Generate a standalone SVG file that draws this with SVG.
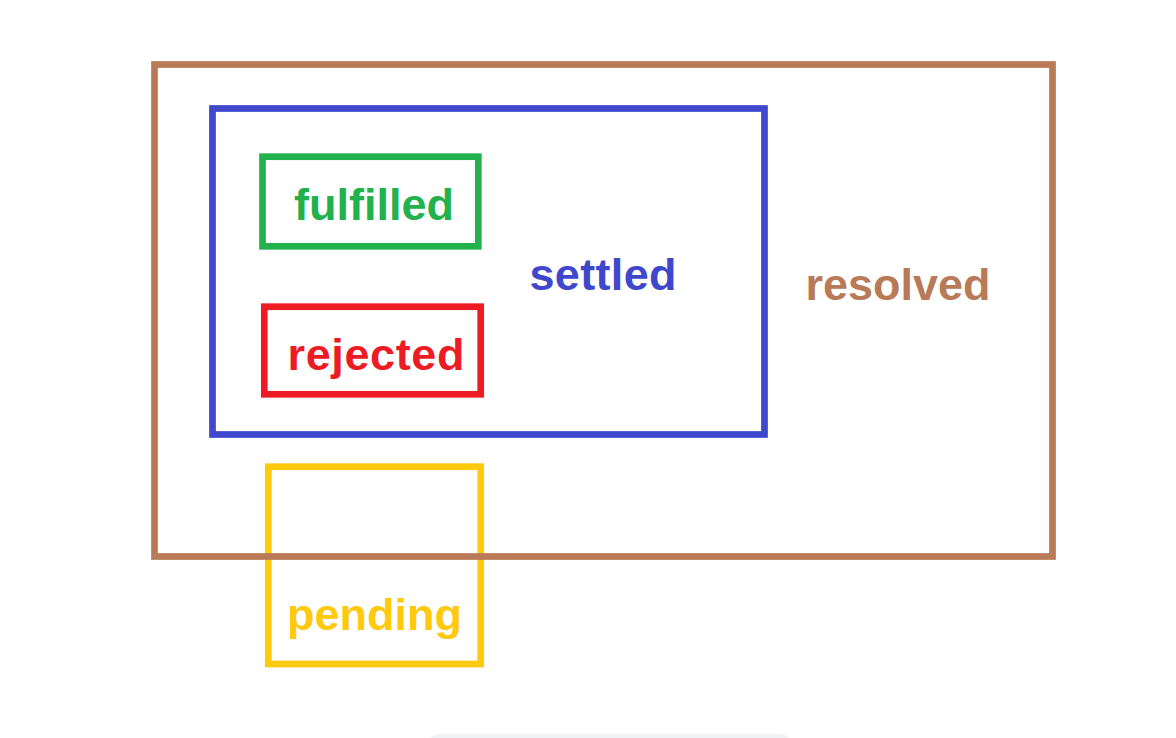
<svg xmlns="http://www.w3.org/2000/svg" width="1176" height="738" viewBox="0 0 1176 738">
  <style>
    .box { fill: none; stroke-width: 6.7; }
    .lbl { font-family: "Liberation Sans", Arial, Helvetica, sans-serif; font-weight: bold; font-size: 45px; }
  </style>
  <rect x="0" y="0" width="1176" height="738" fill="#ffffff"/>
  <g id="pending">
    <rect class="box" x="268.3" y="466.7" width="212.4" height="197.3" stroke="#ffc90e"/>
    <text class="lbl" x="287" y="629.5" fill="#ffc90e">pending</text>
  </g>
  <g id="resolved">
    <rect class="box" x="154.5" y="64.5" width="898" height="492" stroke="#b97a57"/>
    <text class="lbl" x="805.5" y="300" fill="#b97a57">resolved</text>
  </g>
  <g id="settled">
    <rect class="box" x="212.5" y="108.5" width="552" height="326" stroke="#3f48cc"/>
    <text class="lbl" x="529.5" y="289.5" fill="#3f48cc" textLength="147" lengthAdjust="spacing">settled</text>
  </g>
  <g id="fulfilled">
    <rect class="box" x="262.5" y="156.7" width="215.8" height="89.6" stroke="#22b14c"/>
    <text class="lbl" x="294" y="220" fill="#22b14c">fulfilled</text>
  </g>
  <g id="rejected">
    <rect class="box" x="264.3" y="306.7" width="216.4" height="87.6" stroke="#ed1c24"/>
    <text class="lbl" x="287.5" y="370" fill="#ed1c24" textLength="177" lengthAdjust="spacing">rejected</text>
  </g>
  <g id="connectors"></g>
  <rect x="428" y="733.7" width="364" height="24" rx="12" fill="#f1f2f4"/>
</svg>
